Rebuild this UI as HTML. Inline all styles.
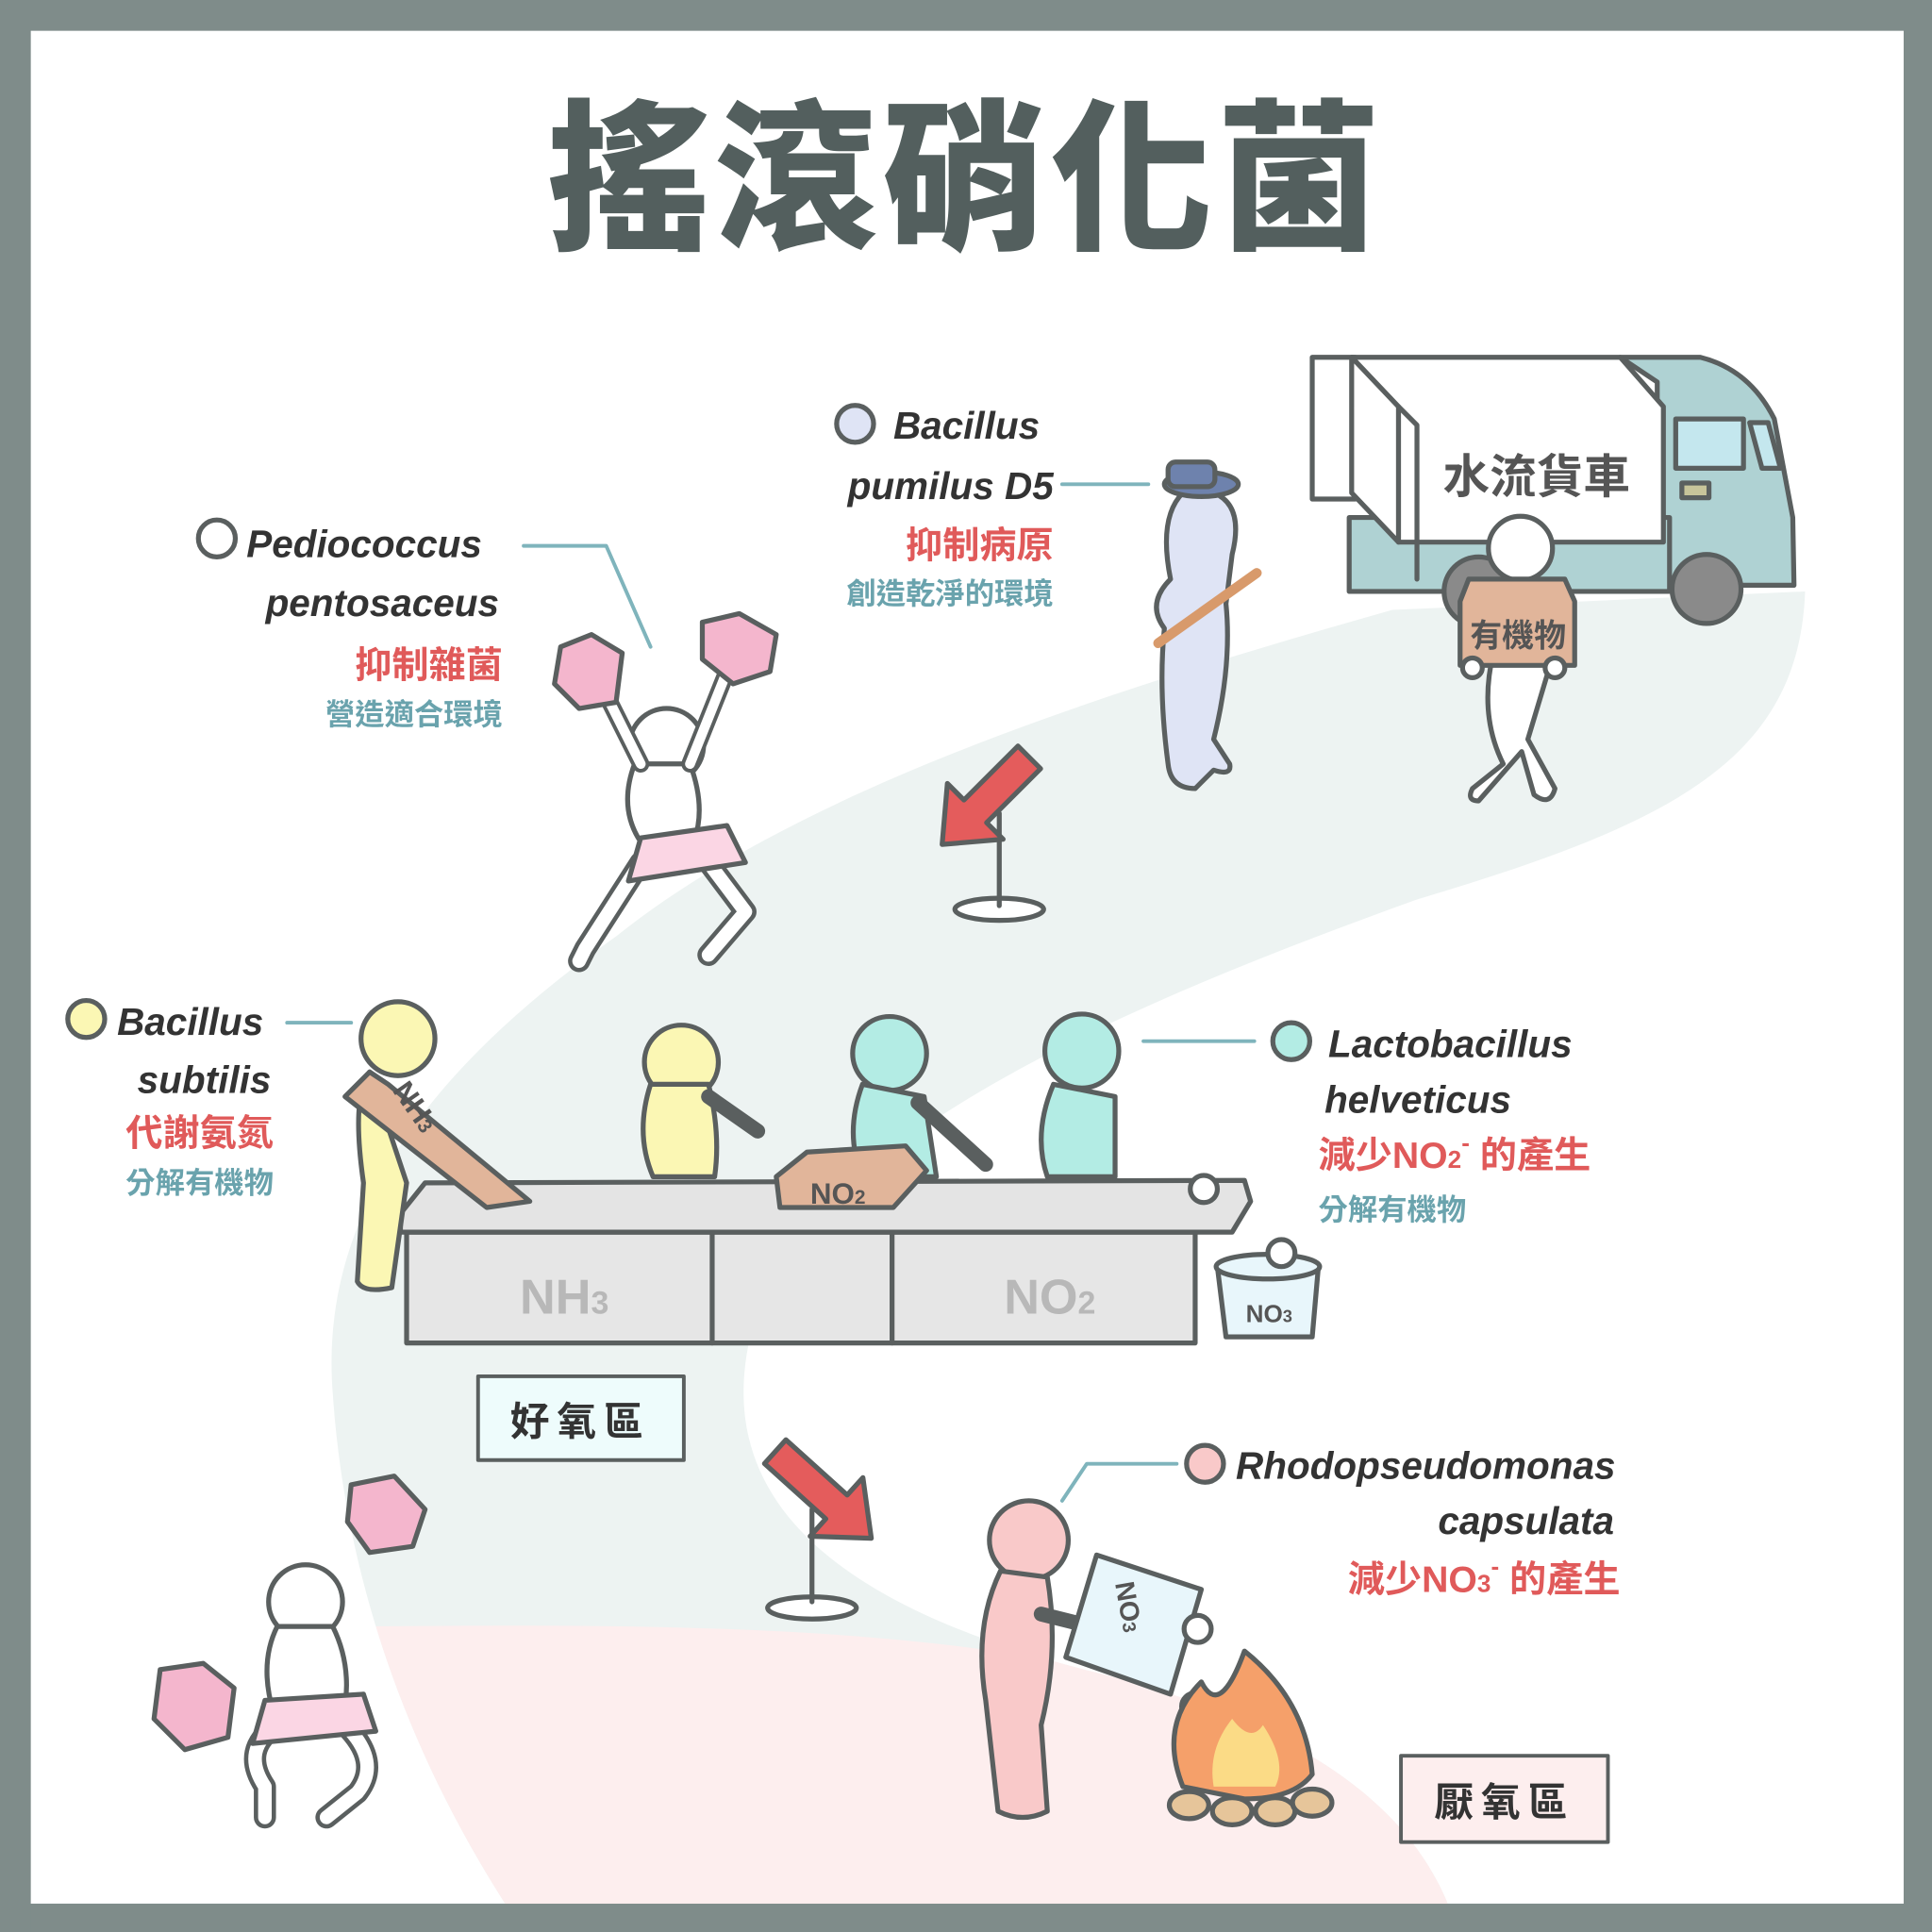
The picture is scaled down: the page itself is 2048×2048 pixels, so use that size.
<!DOCTYPE html>
<html><head><meta charset="utf-8"><style>
html,body{margin:0;padding:0;background:#fff}
svg{display:block}
text{font-family:"Liberation Sans","Noto Sans CJK TC",sans-serif}
</style></head><body>
<svg width="2048" height="2048" viewBox="0 0 1568 1568" xmlns="http://www.w3.org/2000/svg">
<defs>
<clipPath id="band"><path id="bp" d="M1130 495 C900 560 650 640 500 760 C330 880 260 1000 270 1130 C280 1280 330 1420 410 1545 L1175 1545 C1140 1460 1050 1400 900 1360 C650 1300 580 1200 610 1080 C650 930 900 820 1150 730 C1350 670 1460 620 1465 480 Z"/></clipPath>
</defs>
<rect x="0" y="0" width="1568" height="1568" fill="#7f8c8a"/>
<rect x="25" y="25" width="1520" height="1520" fill="#fff"/>
<path d="M1130 495 C900 560 650 640 500 760 C330 880 260 1000 270 1130 C280 1280 330 1420 410 1545 L1175 1545 C1140 1460 1050 1400 900 1360 C650 1300 580 1200 610 1080 C650 930 900 820 1150 730 C1350 670 1460 620 1465 480 Z" fill="#edf3f2"/>
<g clip-path="url(#band)"><path d="M250 1320 C450 1320 750 1310 950 1370 C1100 1420 1200 1480 1200 1545 L250 1545 Z" fill="#fdeeee"/></g>
<rect x="25" y="1545" width="1520" height="23" fill="#7f8c8a"/>
<!-- title -->
<text x="784" y="192" text-anchor="middle" font-size="132" font-weight="900" fill="#535f5e" letter-spacing="4">搖滾硝化菌</text>

<g stroke="#5a5f5f" stroke-width="4" stroke-linejoin="round" stroke-linecap="round">
<!-- truck -->
<path d="M1315 290 L1380 290 Q1420 300 1440 340 L1455 420 L1456 475 L1345 475 L1345 310 Z" fill="#afd2d3"/>
<rect x="1360" y="340" width="55" height="40" fill="#c4e7ee"/>
<path d="M1420 343 L1435 343 L1445 380 L1430 380 Z" fill="#c4e7ee"/>
<rect x="1365" y="392" width="22" height="12" fill="#c7c49a"/>
<rect x="1095" y="420" width="260" height="60" fill="#afd2d3"/>
<rect x="1065" y="290" width="35" height="115" fill="#fff"/>
<path d="M1097 290 L1315 290 L1350 330 L1350 440 L1135 440 L1135 330 Z" fill="#fff"/>
<path d="M1097 290 L1135 330 L1135 440 L1097 400 Z" fill="#fff"/>
<path d="M1135 330 L1150 345 L1150 470" fill="none"/>
<circle cx="1385" cy="478" r="28" fill="#8a8a8a"/>
<circle cx="1200" cy="480" r="28" fill="#8a8a8a"/>
<!-- carrier -->
<circle cx="1234" cy="445" r="26" fill="#fff"/>
<path d="M1212 530 Q1200 580 1220 620 L1195 640 Q1190 650 1200 650 L1235 610 L1245 645 Q1258 655 1262 640 L1240 600 L1258 540 Z" fill="#fff"/>
<path d="M1192 470 L1270 470 L1278 488 L1278 540 L1185 540 L1185 488 Z" fill="#e1b59a"/>
<circle cx="1195" cy="542" r="8" fill="#fff"/><circle cx="1262" cy="542" r="8" fill="#fff"/>
<!-- police -->
<path d="M960 400 Q940 420 950 470 Q930 490 945 510 Q940 560 948 620 Q950 640 970 640 L985 625 Q1000 630 998 620 L985 600 Q1000 540 995 490 L1000 450 Q1010 410 985 400 Z" fill="#dfe4f5"/>
<ellipse cx="975" cy="393" rx="30" ry="10" fill="#6e82ad"/>
<rect x="948" y="375" width="38" height="20" rx="6" fill="#6e82ad"/>
<line x1="940" y1="522" x2="1020" y2="465" stroke="#d89a6b" stroke-width="8"/>
<!-- cheerleader 1 -->
<circle cx="541" cy="605" r="30" fill="#fff"/>
<path d="M515 620 Q500 660 525 690 L560 690 Q575 660 560 620 Z" fill="#fff"/>
<path d="M520 620 L490 560 M560 620 L590 545" fill="none" stroke-width="14" stroke="#5a5f5f"/>
<path d="M520 620 L490 560 M560 620 L590 545" fill="none" stroke-width="8" stroke="#fff"/>
<path d="M520 700 L475 770 L470 780 M575 700 L605 740 L575 775" fill="none" stroke-width="18" stroke="#5a5f5f"/>
<path d="M520 700 L475 770 L470 780 M575 700 L605 740 L575 775" fill="none" stroke-width="11" stroke="#fff"/>
<path d="M520 680 L590 670 L605 700 L510 715 Z" fill="#fbd6e4"/>
<path d="M455 525 L480 515 L505 530 L500 570 L470 575 L450 555 Z" fill="#f4b6cd"/>
<path d="M570 505 L600 498 L630 515 L625 545 L595 555 L570 535 Z" fill="#f4b6cd"/>
<!-- arrow sign 1 -->
<ellipse cx="811" cy="738" rx="36" ry="9" fill="#fff"/>
<line x1="811" y1="660" x2="811" y2="735"/>
<path transform="translate(800,650) rotate(135)" d="M-50 -13 L12 -13 L12 -32 L50 0 L12 32 L12 13 L-50 13 Z" fill="#e45c5c"/>
<!-- arrow sign 2 -->
<ellipse cx="659" cy="1305" rx="36" ry="9" fill="#fff"/>
<line x1="659" y1="1225" x2="659" y2="1300"/>
<path transform="translate(670,1215) rotate(42)" d="M-55 -13 L12 -13 L12 -32 L50 0 L12 32 L12 13 L-55 13 Z" fill="#e45c5c"/>
<!-- conveyor -->
<path d="M330 1000 L970 1000 L970 1090 L330 1090 Z" fill="#e6e6e6"/>
<line x1="578" y1="1000" x2="578" y2="1090"/><line x1="724" y1="1000" x2="724" y2="1090"/>
<path d="M325 985 L345 960 L1010 958 L1015 975 L1000 1000 L325 1000 Z" fill="#e4e4e4"/>
<!-- workers -->
<circle cx="323" cy="843" r="30" fill="#fbf7b4"/>
<path d="M300 870 Q285 890 295 960 L290 1040 Q295 1050 318 1045 L330 960 Z" fill="#fbf7b4"/>
<path d="M300 870 L315 880 L430 975 L395 980 L280 890 Z" fill="#e1b59a"/>
<circle cx="553" cy="862" r="30" fill="#fbf7b4"/>
<path d="M528 880 Q515 920 530 955 L580 955 Q585 920 575 880 Z" fill="#fbf7b4"/>
<path d="M575 890 L615 918" stroke-width="12"/>
<circle cx="722" cy="855" r="30" fill="#b3ece4"/>
<path d="M700 880 Q685 920 700 955 L760 955 L750 890 Z" fill="#b3ece4"/>
<path d="M745 895 L800 945" stroke-width="12"/>
<path d="M630 955 L655 935 L735 930 L752 950 L725 980 L633 980 Z" fill="#e1b59a"/>
<circle cx="878" cy="853" r="30" fill="#b3ece4"/>
<path d="M855 880 Q838 920 850 955 L905 955 L905 890 Z" fill="#b3ece4"/>
<circle cx="977" cy="965" r="11" fill="#fff"/>
<!-- bucket -->
<path d="M988 1028 L1070 1028 L1065 1085 L995 1085 Z" fill="#e8f6fb"/>
<ellipse cx="1029" cy="1028" rx="42" ry="10" fill="#e8f6fb"/>
<circle cx="1040" cy="1017" r="11" fill="#fff"/>
<!-- cheerleader 2 -->
<circle cx="248" cy="1300" r="30" fill="#fff"/>
<path d="M225 1320 Q210 1350 222 1390 L280 1385 Q285 1350 270 1320 Z" fill="#fff"/>
<path d="M225 1400 Q195 1420 215 1450 L215 1475 M280 1400 Q310 1430 290 1455 L265 1475" fill="none" stroke-width="18"/>
<path d="M225 1400 Q195 1420 215 1450 L215 1475 M280 1400 Q310 1430 290 1455 L265 1475" fill="none" stroke-width="11" stroke="#fff"/>
<path d="M215 1380 L295 1375 L305 1405 L205 1415 Z" fill="#fbd6e4"/>
<path d="M285 1205 L320 1198 L345 1225 L335 1255 L300 1260 L282 1235 Z" fill="#f4b6cd"/>
<path d="M130 1355 L165 1350 L190 1370 L185 1410 L150 1420 L125 1395 Z" fill="#f4b6cd"/>
<!-- pink worker -->
<circle cx="835" cy="1250" r="32" fill="#f9c9c9"/>
<path d="M812 1275 Q790 1320 800 1380 L810 1470 Q830 1480 850 1470 L845 1400 Q860 1340 850 1280 Z" fill="#f9c9c9"/>
<path d="M845 1310 L885 1320" stroke-width="12"/>
<path d="M890 1262 L975 1290 L950 1375 L865 1345 Z" fill="#e8f6fb"/>
<circle cx="972" cy="1322" r="11" fill="#fff"/>
<circle cx="970" cy="1385" r="11" fill="#fff"/>
<!-- fire -->
<path d="M960 1450 Q940 1400 975 1365 Q990 1395 1010 1340 Q1060 1380 1065 1440 Q1050 1460 1010 1460 Z" fill="#f5a06a"/>
<path d="M985 1450 Q980 1420 1000 1395 Q1015 1415 1025 1400 Q1045 1430 1035 1450 Z" fill="#fbdb86" stroke="none"/>
<g fill="#e6c59a"><ellipse cx="965" cy="1465" rx="16" ry="11"/><ellipse cx="1000" cy="1470" rx="16" ry="11"/><ellipse cx="1035" cy="1470" rx="16" ry="11"/><ellipse cx="1065" cy="1463" rx="16" ry="11"/></g>
<!-- connector lines -->
<g stroke="#7fb4bc" stroke-width="3" fill="none">
<path d="M425 443 L492 443 L528 525"/>
<path d="M862 393 L932 393"/>
<path d="M233 830 L285 830"/>
<path d="M928 845 L1018 845"/>
<path d="M862 1218 L882 1188 L955 1188"/>
</g>
<!-- bullets -->
<circle cx="176" cy="437" r="15" fill="#fff"/>
<circle cx="694" cy="344" r="15" fill="#dfe4f5"/>
<circle cx="70" cy="827" r="15" fill="#fbf7b4"/>
<circle cx="1048" cy="845" r="15" fill="#b3ece4"/>
<circle cx="978" cy="1188" r="15" fill="#f9c9c9"/>
<!-- zone boxes -->
<rect x="388" y="1117" width="167" height="68" fill="#eefcfc" stroke-width="3"/>
<rect x="1137" y="1425" width="168" height="70" fill="#fdeeee" stroke-width="3"/>
</g>

<!-- texts -->
<g font-weight="bold" font-style="italic" font-size="31" fill="#333">
<text x="200" y="452">Pediococcus</text>
<text x="405" y="500" text-anchor="end">pentosaceus</text>
<text x="725" y="356">Bacillus</text>
<text x="855" y="405" text-anchor="end">pumilus D5</text>
<text x="95" y="840">Bacillus</text>
<text x="220" y="887" text-anchor="end">subtilis</text>
<text x="1078" y="858">Lactobacillus</text>
<text x="1075" y="903">helveticus</text>
<text x="1003" y="1200">Rhodopseudomonas</text>
<text x="1310" y="1245" text-anchor="end">capsulata</text>
</g>
<g font-weight="bold" font-size="30" fill="#e05a5a">
<text x="408" y="550" text-anchor="end">抑制雜菌</text>
<text x="855" y="453" text-anchor="end">抑制病原</text>
<text x="222" y="930" text-anchor="end">代謝氨氮</text>
<text x="1070" y="948">減少NO<tspan font-size="20">2</tspan><tspan font-size="20" dy="-14">-</tspan><tspan dy="14"> 的產生</tspan></text>
<text x="1315" y="1292" text-anchor="end">減少NO<tspan font-size="20">3</tspan><tspan font-size="20" dy="-14">-</tspan><tspan dy="14"> 的產生</tspan></text>
</g>
<g font-weight="bold" font-size="24" fill="#6aa3ad">
<text x="408" y="588" text-anchor="end">營造適合環境</text>
<text x="855" y="490" text-anchor="end">創造乾淨的環境</text>
<text x="222" y="968" text-anchor="end">分解有機物</text>
<text x="1070" y="990">分解有機物</text>
</g>
<g font-weight="bold" fill="#333">
<text x="1247" y="400" text-anchor="middle" font-size="38" fill="#555">水流貨車</text>
<text x="1232" y="525" text-anchor="middle" font-size="26" fill="#555">有機物</text>
<text x="471" y="1165" text-anchor="middle" font-size="32" letter-spacing="6">好氧區</text>
<text x="1221" y="1474" text-anchor="middle" font-size="32" letter-spacing="6">厭氧區</text>
<text x="458" y="1066" text-anchor="middle" font-size="40" fill="#b8b8b8">NH<tspan font-size="26">3</tspan></text>
<text x="852" y="1066" text-anchor="middle" font-size="40" fill="#b8b8b8">NO<tspan font-size="26">2</tspan></text>
<text x="680" y="977" text-anchor="middle" font-size="24" fill="#555">NO<tspan font-size="16">2</tspan></text>
<text x="1030" y="1073" text-anchor="middle" font-size="20" fill="#555">NO<tspan font-size="14">3</tspan></text>
<text x="0" y="0" font-size="24" fill="#555" transform="translate(318,885) rotate(55)">NH<tspan font-size="16">3</tspan></text>
<text x="0" y="0" font-size="22" fill="#555" transform="translate(905,1285) rotate(80)">NO<tspan font-size="15">3</tspan></text>
</g>
</svg>
</body></html>
